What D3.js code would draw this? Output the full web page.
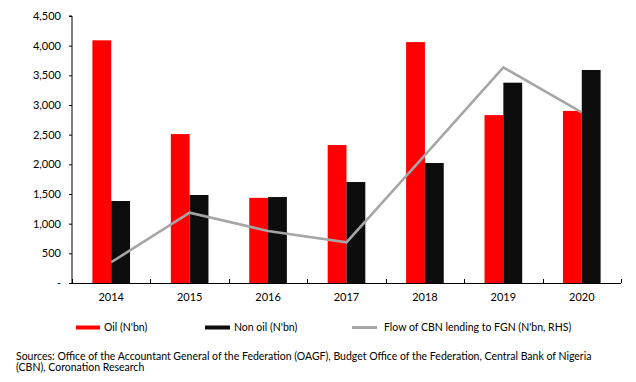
<!DOCTYPE html>
<html><head><meta charset="utf-8">
<script src="https://cdn.jsdelivr.net/npm/d3@7"></script>
<style>
body{margin:0;background:#fff;}
svg{display:block;font-family:Lato, "Open Sans", sans-serif;}
</style></head>
<body><svg id="c" width="636" height="382"></svg>
<script>
const years = ["2014","2015","2016","2017","2018","2019","2020"];
const oil = [4090, 2510, 1435, 2325, 4060, 2830, 2900];
const nonOil = [1382, 1483, 1449, 1702, 2022, 3376, 3590];
const cbnLending = [350, 1185, 876, 686, 2155, 3635, 2877];
const yTicks = [0, 500, 1000, 1500, 2000, 2500, 3000, 3500, 4000, 4500];
const legendLabels = ["Oil (N'bn)", "Non oil (N'bn)", "Flow of CBN lending to FGN (N'bn, RHS)"];
const sourceLines = ["Sources: Office of the Accountant General of the Federation (OAGF), Budget Office of the Federation, Central Bank of Nigeria", "(CBN), Coronation Research"];

const svg = d3.select("#c");
const L = 72, R = 621, T = 16, B = 283;
const x = d3.scaleBand().domain(years).range([L, R]).paddingInner(0.52).paddingOuter(0.26);
const xs = d3.scaleBand().domain(["oil","nonOil"]).range([0, x.bandwidth()]);
const y = d3.scaleLinear().domain([0, 4500]).range([B, T]);
const yR = d3.scaleLinear().domain([0, 4500]).range([B, T]);

// bars
const g = svg.append("g");
years.forEach((yr, i) => {
  g.append("rect").attr("x", x(yr) + xs("oil")).attr("width", xs.bandwidth())
    .attr("y", y(oil[i])).attr("height", y(0) - y(oil[i])).attr("fill", "#ff0000");
  g.append("rect").attr("x", x(yr) + xs("nonOil")).attr("width", xs.bandwidth())
    .attr("y", y(nonOil[i])).attr("height", y(0) - y(nonOil[i])).attr("fill", "#0d0d0d");
});

// line
const line = d3.line().x((d, i) => x(years[i]) + x.bandwidth() / 2).y(d => yR(d));
svg.append("path").datum(cbnLending).attr("d", line).attr("fill", "none")
  .attr("stroke", "#a6a6a6").attr("stroke-width", 2.6).attr("stroke-linejoin", "miter");

// y axis
const yAxis = d3.axisLeft(y).tickValues(yTicks).tickSize(3).tickPadding(8)
  .tickFormat(d => d === 0 ? "-" : d3.format(",")(d));
const ya = svg.append("g").attr("transform", `translate(${L},0)`).call(yAxis);
ya.select(".domain").attr("stroke", "#000").attr("d", `M-3,${T}H0V${B}`);
ya.selectAll("text").attr("font-size", 11).attr("fill", "#000").style("font-family", "Lato");
ya.selectAll(".tick line").attr("stroke", "#000");

// x axis
const xa = svg.append("g");
xa.append("line").attr("x1", L).attr("x2", R).attr("y1", B + 0.5).attr("y2", B + 0.5).attr("stroke", "#000");
const step = x.step();
d3.range(years.length + 1).forEach(k => {
  const px = Math.round(L + k * step) + 0.5;
  xa.append("line").attr("x1", px).attr("x2", px).attr("y1", B - 4).attr("y2", B).attr("stroke", "#000");
});
xa.selectAll("text.yr").data(years).enter().append("text").attr("class", "yr")
  .attr("x", d => x(d) + x.bandwidth() / 2).attr("y", 301)
  .attr("text-anchor", "middle").attr("font-size", 11).attr("fill", "#000").text(d => d);

// legend
const leg = [
  {x: 76, w: 24, h: 4, c: "#ff0000", tx: 104},
  {x: 205, w: 25, h: 4, c: "#0d0d0d", tx: 234},
  {x: 352, w: 25, h: 3, c: "#a6a6a6", tx: 384}
];
leg.forEach((l, i) => {
  svg.append("rect").attr("x", l.x).attr("y", 327.5 - l.h / 2).attr("width", l.w).attr("height", l.h).attr("fill", l.c);
  svg.append("text").attr("x", l.tx).attr("y", 331).attr("font-size", 10.5).attr("fill", "#000").text(legendLabels[i]);
});

// sources
sourceLines.forEach((s, i) => {
  svg.append("text").attr("x", 16).attr("y", 359.5 + i * 11.7).attr("font-size", 10.5).attr("fill", "#000").text(s);
});
</script></body></html>
